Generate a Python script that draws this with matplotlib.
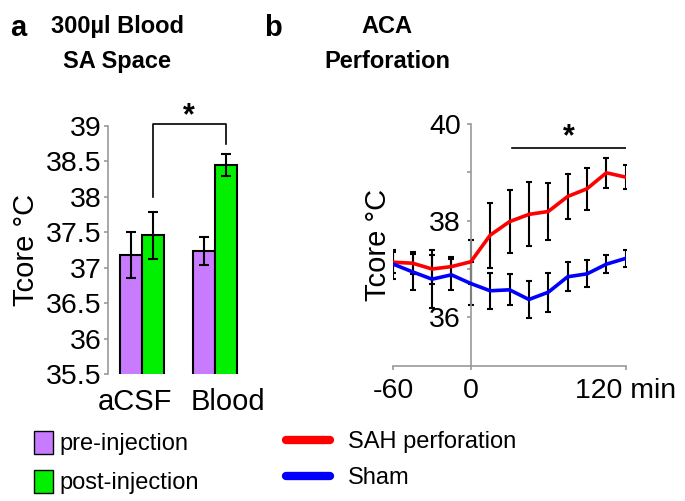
import matplotlib
matplotlib.use("Agg")
import matplotlib.pyplot as plt
from matplotlib.patches import Patch
from matplotlib.lines import Line2D

plt.rcParams['font.family'] = ['Liberation Sans', 'DejaVu Sans']

# panel a: 300ul blood in SA space
groups = ['aCSF', 'Blood']
pre_mean = [37.18, 37.24]
pre_err = [0.33, 0.20]
post_mean = [37.46, 38.45]
post_err = [0.33, 0.155]
a_yticks = [35.5, 36, 36.5, 37, 37.5, 38, 38.5, 39]
a_yticklabels = ['35.5', '36', '36.5', '37', '37.5', '38', '38.5', '39']

# panel b: ACA perforation time course (min)
minutes = [-60, -45, -30, -15, 0, 15, 30, 45, 60, 75, 90, 105, 120]
sah = [37.14, 37.12, 37.00, 37.05, 37.15, 37.70, 37.98, 38.13, 38.19, 38.50, 38.66, 38.99, 38.90]
sah_err = [0.22, 0.23, 0.30, 0.20, 0.45, 0.67, 0.65, 0.66, 0.58, 0.47, 0.43, 0.31, 0.25]
sham = [37.10, 36.94, 36.79, 36.88, 36.70, 36.55, 36.57, 36.37, 36.52, 36.84, 36.90, 37.10, 37.22]
sham_err = [0.30, 0.38, 0.60, 0.32, 0.45, 0.37, 0.32, 0.39, 0.40, 0.30, 0.28, 0.18, 0.18]

purple = '#C97BFF'
green = '#00F000'
gray = '#999999'
tick_fs = 20.5

fig = plt.figure(figsize=(6.85, 5.01), dpi=100)

# ---- panel a ----
ax = fig.add_axes([0.158, 0.2535, 0.204, 0.495])
w = 0.3
x = range(len(groups))
ax.bar([i - w / 2 for i in x], pre_mean, w, color=purple, edgecolor='black', linewidth=1.5,
       yerr=pre_err, error_kw=dict(ecolor='black', elinewidth=1.5, capsize=3.5, capthick=1.5))
ax.bar([i + w / 2 for i in x], post_mean, w, color=green, edgecolor='black', linewidth=1.5,
       yerr=post_err, error_kw=dict(ecolor='black', elinewidth=1.5, capsize=3.5, capthick=1.5))
ax.set_ylim(35.5, 39)
ax.set_xlim(-0.455, 1.45)
ax.set_yticks(a_yticks)
ax.set_yticklabels(a_yticklabels)
# labels sit a bit apart from the group centres in the original
ax.set_xticks([-0.09, 1.18])
ax.set_xticklabels(groups)
for s in ['top', 'right', 'bottom']:
    ax.spines[s].set_visible(False)
ax.spines['left'].set_color(gray)
ax.spines['left'].set_linewidth(1.2)
ax.tick_params(axis='y', colors=gray, length=3, width=1.2, labelsize=tick_fs, labelcolor='black', pad=2)
ax.tick_params(axis='x', length=0, labelsize=21, pad=10)
ax.set_ylabel('Tcore °C', fontsize=21, labelpad=4)

# significance bracket
bx0, bx1 = 0 + w / 2, 1 + w / 2
ax.plot([bx0, bx0, bx1, bx1], [38.0, 39.03, 39.03, 38.75], color='black', lw=1.2, clip_on=False)
ax.text((bx0 + bx1) / 2, 38.92, '*', ha='center', va='bottom', fontsize=22, fontweight='bold')

fig.legend(handles=[Patch(facecolor=purple, edgecolor='black', label='pre-injection'),
                    Patch(facecolor=green, edgecolor='black', label='post-injection')],
           loc='upper left', bbox_to_anchor=(0.05, 0.140), frameon=False, fontsize=17,
           handlelength=0.8, handleheight=1.1, handletextpad=0.25, labelspacing=0.62,
           borderpad=0, borderaxespad=0)

# ---- panel b ----
bx = fig.add_axes([0.5742, 0.27, 0.3393, 0.4826])
bx.errorbar(minutes, sah, yerr=sah_err, fmt='none', ecolor='black', elinewidth=1.5, capsize=2.5, capthick=1.5, zorder=2)
bx.errorbar(minutes, sham, yerr=sham_err, fmt='none', ecolor='black', elinewidth=1.5, capsize=2.5, capthick=1.5, zorder=2)
bx.plot(minutes, sah, color='#FF0000', lw=2.6, zorder=3)
bx.plot(minutes, sham, color='#0000FF', lw=2.6, zorder=3)
bx.set_xlim(-60, 120)
bx.set_ylim(35, 40)
bx.spines['left'].set_position(('data', 0))
for s in ['top', 'right']:
    bx.spines[s].set_visible(False)
for s in ['left', 'bottom']:
    bx.spines[s].set_color(gray)
    bx.spines[s].set_linewidth(1.2)
bx.set_yticks([36, 38, 40])
bx.set_yticks([37, 39], minor=True)
bx.set_xticks([-60, 0, 120])
bx.set_xticklabels(['-60', '0', '120 min'])
bx.tick_params(which='both', colors=gray, length=3, width=1.2, labelsize=tick_fs, labelcolor='black')
bx.tick_params(axis='x', pad=6)
bx.tick_params(axis='y', pad=4)
bx.text(-72, 37.5, 'Tcore °C', rotation=90, ha='center', va='center', fontsize=21)

# significance line
bx.plot([32, 120], [39.5, 39.5], color='black', lw=1.2)
bx.text(76, 39.42, '*', ha='center', va='bottom', fontsize=22, fontweight='bold')

fig.legend(handles=[Line2D([], [], color='#FF0000', lw=6, solid_capstyle='round', label='SAH perforation'),
                    Line2D([], [], color='#0000FF', lw=6, solid_capstyle='round', label='Sham')],
           loc='upper left', bbox_to_anchor=(0.4175, 0.140), frameon=False, fontsize=17,
           handlelength=1.85, handletextpad=0.77, labelspacing=0.62,
           borderpad=0, borderaxespad=0)

# panel letters and titles
fig.text(0.015, 0.928, 'a', fontsize=21, fontweight='bold')
fig.text(0.171, 0.935, '300µl Blood', fontsize=17, fontweight='bold', ha='center')
fig.text(0.171, 0.865, 'SA Space', fontsize=17, fontweight='bold', ha='center')
fig.text(0.385, 0.928, 'b', fontsize=21, fontweight='bold')
fig.text(0.565, 0.935, 'ACA', fontsize=17, fontweight='bold', ha='center')
fig.text(0.565, 0.865, 'Perforation', fontsize=17, fontweight='bold', ha='center')

fig.savefig('out.png', dpi=100)
